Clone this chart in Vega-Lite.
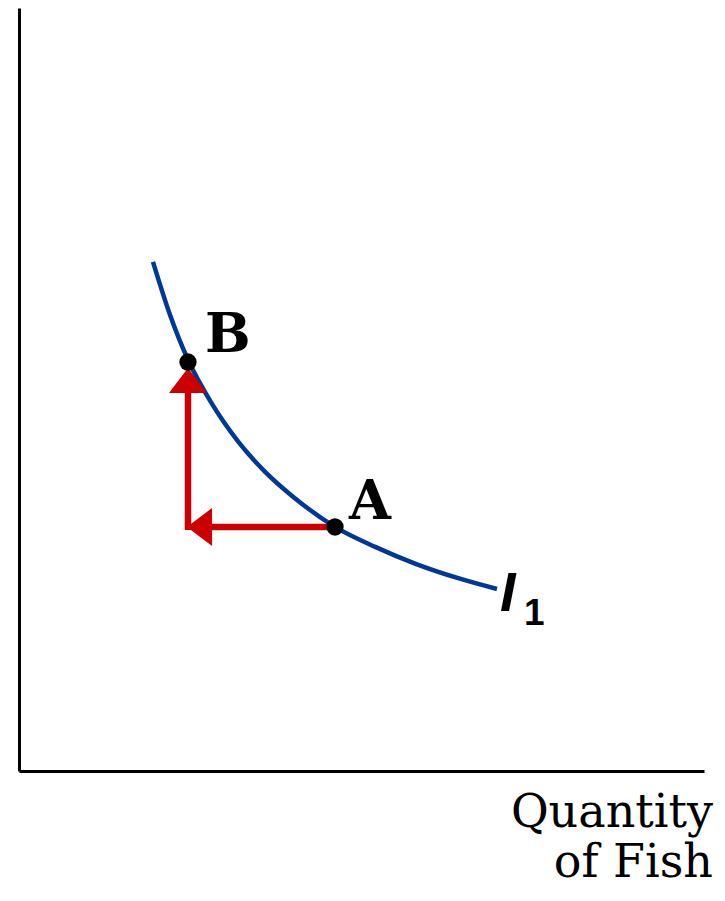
{
  "$schema": "https://vega.github.io/schema/vega-lite/v6.json",
  "width": 685,
  "height": 763,
  "autosize": {"type": "none"},
  "padding": {"left": 19, "top": 8, "right": 21, "bottom": 130},
  "background": "white",
  "config": {"view": {"stroke": null}},
  "layer": [
    {
      "data": {"values": [
        {"x": 1.956, "y": 6.673},
        {"x": 2.2, "y": 5.99},
        {"x": 2.467, "y": 5.39},
        {"x": 2.8, "y": 4.837},
        {"x": 3.2, "y": 4.316},
        {"x": 3.6, "y": 3.914},
        {"x": 4.0, "y": 3.595},
        {"x": 4.613, "y": 3.2},
        {"x": 5.2, "y": 2.937},
        {"x": 5.8, "y": 2.712},
        {"x": 6.4, "y": 2.53},
        {"x": 6.978, "y": 2.385}
      ]},
      "mark": {"type": "line", "color": "#00389a", "strokeWidth": 4.5, "interpolate": "monotone"},
      "encoding": {
        "x": {"field": "x", "type": "quantitative", "scale": {"domain": [0, 10], "nice": false, "zero": false},
              "axis": {"title": null, "labels": false, "ticks": false, "grid": false, "domainColor": "black", "domainWidth": 3}},
        "y": {"field": "y", "type": "quantitative", "scale": {"domain": [0, 10], "nice": false, "zero": false},
              "axis": {"title": null, "labels": false, "ticks": false, "grid": false, "domainColor": "black", "domainWidth": 3}}
      }
    },
    {
      "data": {"values": [
        {"x": 4.613, "x2": 2.7, "y": 3.198, "y2": 3.198},
        {"x": 2.467, "x2": 2.467, "y": 3.159, "y2": 5.06}
      ]},
      "mark": {"type": "rule", "color": "#cc0000", "strokeWidth": 6.5, "strokeCap": "butt"},
      "encoding": {
        "x": {"field": "x", "type": "quantitative"},
        "x2": {"field": "x2"},
        "y": {"field": "y", "type": "quantitative"},
        "y2": {"field": "y2"}
      }
    },
    {
      "data": {"values": [{"x": 2.467, "y": 5.118}]},
      "mark": {"type": "point", "shape": "M0,-0.66L1,0.66L-1,0.66Z", "size": 1444, "filled": true, "color": "#cc0000", "opacity": 1, "strokeWidth": 0},
      "encoding": {
        "x": {"field": "x", "type": "quantitative"},
        "y": {"field": "y", "type": "quantitative"}
      }
    },
    {
      "data": {"values": [{"x": 2.635, "y": 3.198}]},
      "mark": {"type": "point", "shape": "M-0.66,0L0.66,-1L0.66,1Z", "size": 1444, "filled": true, "color": "#cc0000", "opacity": 1, "strokeWidth": 0},
      "encoding": {
        "x": {"field": "x", "type": "quantitative"},
        "y": {"field": "y", "type": "quantitative"}
      }
    },
    {
      "data": {"values": [
        {"label": "B", "x": 2.467, "y": 5.36},
        {"label": "A", "x": 4.613, "y": 3.198}
      ]},
      "mark": {"type": "point", "shape": "circle", "size": 300, "filled": true, "color": "black", "opacity": 1},
      "encoding": {
        "x": {"field": "x", "type": "quantitative"},
        "y": {"field": "y", "type": "quantitative"}
      }
    },
    {
      "data": {"values": [
        {"label": "B", "x": 2.715, "y": 5.491},
        {"label": "A", "x": 4.818, "y": 3.303}
      ]},
      "mark": {"type": "text", "font": "DejaVu Serif", "fontWeight": "bold", "fontSize": 54, "align": "left", "baseline": "alphabetic", "color": "black"},
      "encoding": {
        "x": {"field": "x", "type": "quantitative"},
        "y": {"field": "y", "type": "quantitative"},
        "text": {"field": "label"}
      }
    },
    {
      "data": {"values": [{"label": "I", "x": 7.022, "y": 2.097}]},
      "mark": {"type": "text", "font": "Liberation Sans", "fontWeight": "bold", "fontStyle": "italic", "fontSize": 56, "align": "left", "baseline": "alphabetic", "color": "black"},
      "encoding": {
        "x": {"field": "x", "type": "quantitative"},
        "y": {"field": "y", "type": "quantitative"},
        "text": {"field": "label"}
      }
    },
    {
      "data": {"values": [{"label": "1", "x": 7.372, "y": 1.913}]},
      "mark": {"type": "text", "font": "Liberation Sans", "fontWeight": "bold", "fontSize": 37, "align": "left", "baseline": "alphabetic", "color": "black"},
      "encoding": {
        "x": {"field": "x", "type": "quantitative"},
        "y": {"field": "y", "type": "quantitative"},
        "text": {"field": "label"}
      }
    },
    {
      "data": {"values": [
        {"label": "Quantity", "x": 10.131, "y": -0.734},
        {"label": "of Fish", "x": 10.131, "y": -1.389}
      ]},
      "mark": {"type": "text", "font": "DejaVu Serif", "fontSize": 46, "align": "right", "baseline": "alphabetic", "color": "black"},
      "encoding": {
        "x": {"field": "x", "type": "quantitative"},
        "y": {"field": "y", "type": "quantitative"},
        "text": {"field": "label"}
      }
    }
  ]
}
